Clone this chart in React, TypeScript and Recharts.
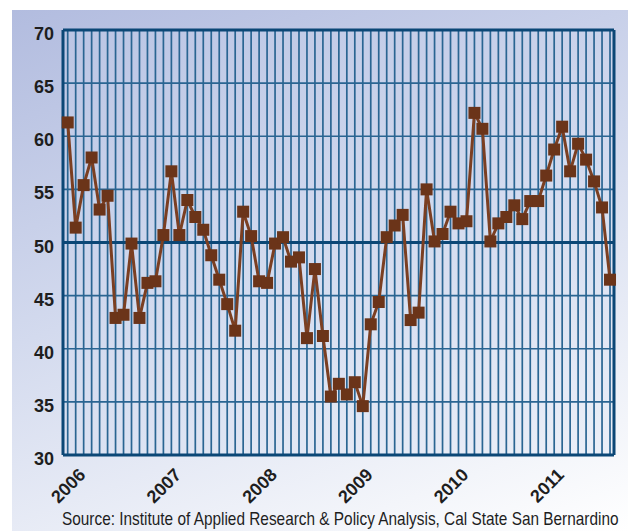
import { LineChart, Line, XAxis, YAxis, CartesianGrid, ReferenceLine } from "recharts";

// monthly index values, Jan 2006 .. Sep 2011
const VALUES = [
  61.3, 51.4, 55.4, 58.0, 53.1, 54.4, 42.9, 43.2, 49.9, 42.9, 46.2, 46.35,
  50.7, 56.7, 50.7, 54.0, 52.4, 51.2, 48.8, 46.5, 44.2, 41.7, 52.9, 50.6,
  46.35, 46.2, 49.9, 50.5, 48.2, 48.6, 41.0, 47.5, 41.2, 35.5, 36.7, 35.7,
  36.85, 34.6, 42.3, 44.4, 50.5, 51.6, 52.6, 42.7, 43.4, 55.0, 50.1, 50.8,
  52.9, 51.8, 52.0, 62.2, 60.7, 50.1, 51.8, 52.4, 53.5, 52.2, 53.9, 53.9,
  56.3, 58.75, 60.9, 56.7, 59.3, 57.8, 55.75, 53.3, 46.5,
];
const YEARS = ["2006", "2007", "2008", "2009", "2010", "2011"];
const Y_TICKS = [30, 35, 40, 45, 50, 55, 60, 65, 70];
const SOURCE = "Source:  Institute of Applied Research & Policy Analysis, Cal State San Bernardino";

const data = VALUES.map((v, i) => ({ i, v }));
const monthTicks = data.map((d) => d.i);

const X_MIN = -0.59;
const X_MAX = 68.5;
const NAVY = "#0b4776";
const GRID = "#2a6592";
const BROWN = "#6b3419";

const FONT = "'Liberation Sans', Arial, sans-serif";
// source line in the reference is a condensed face; squeeze it horizontally
const SQUEEZE = 0.855;

function YearTick(props: any) {
  const { x, y, payload } = props;
  const idx = payload.value;
  if (idx % 12 !== 0) return null;
  const label = YEARS[idx / 12];
  const px = x + 19;
  const py = y + 13;
  return (
    <text
      x={px} y={py} transform={`rotate(-45, ${px}, ${py})`} textAnchor="end"
      fontFamily={FONT} fontWeight="bold" fontSize={18} fill="#1e1e1e"
    >
      {label}
    </text>
  );
}

function ValueTick(props: any) {
  const { y, payload } = props;
  return (
    <text x={54} y={y + 10} textAnchor="end" fontFamily={FONT} fontWeight="bold" fontSize={18} fill="#1e1e1e">
      {payload.value}
    </text>
  );
}

function Square(props: any) {
  const { cx, cy, index } = props;
  return <rect key={index} x={cx - 6} y={cy - 6} width={12} height={12} fill={BROWN} />;
}

export default function App() {
  return (
    <div style={{ position: "absolute", left: 0, top: 0, width: 628, height: 531, background: "#fff", overflow: "hidden" }}>
      <div
        style={{
          position: "absolute", left: 12, top: 10, width: 616, height: 521,
          background: "linear-gradient(160deg, #b2bcdf 0%, #d3daee 45%, #f3f5fa 85%, #ffffff 100%)",
        }}
      />
      <div style={{ position: "absolute", left: 0, top: 0 }}>
        <LineChart width={628} height={531} data={data} margin={{ top: 30, right: 14, bottom: 0, left: 0 }}>
          <CartesianGrid stroke={GRID} strokeWidth={1.7} fill="rgba(205,214,238,0.25)" />
          <XAxis
            type="number" dataKey="i" domain={[X_MIN, X_MAX]} ticks={monthTicks} interval={0}
            axisLine={false} tickLine={false} tick={<YearTick />} height={76}
          />
          <YAxis
            type="number" domain={[30, 70]} ticks={Y_TICKS} width={63}
            axisLine={false} tickLine={false} tick={<ValueTick />}
          />
          <ReferenceLine y={50} stroke={NAVY} strokeWidth={3} />
          <ReferenceLine y={30} stroke={NAVY} strokeWidth={3} />
          <ReferenceLine y={70} stroke={NAVY} strokeWidth={3} />
          <ReferenceLine x={X_MIN} stroke={NAVY} strokeWidth={3} />
          <ReferenceLine x={X_MAX} stroke={NAVY} strokeWidth={3} />
          <Line
            type="linear" dataKey="v" stroke="#7b3f22" strokeWidth={3}
            dot={Square} activeDot={false} isAnimationActive={false}
          />
        </LineChart>
      </div>
      <svg style={{ position: "absolute", left: 0, top: 0 }} width={628} height={531}>
        <g transform={`translate(62, 525) scale(${SQUEEZE}, 1)`}>
          <text x={0} y={0} fontFamily={FONT} fontSize={18} fill="#1e1e1e">
            {SOURCE}
          </text>
        </g>
      </svg>
    </div>
  );
}
